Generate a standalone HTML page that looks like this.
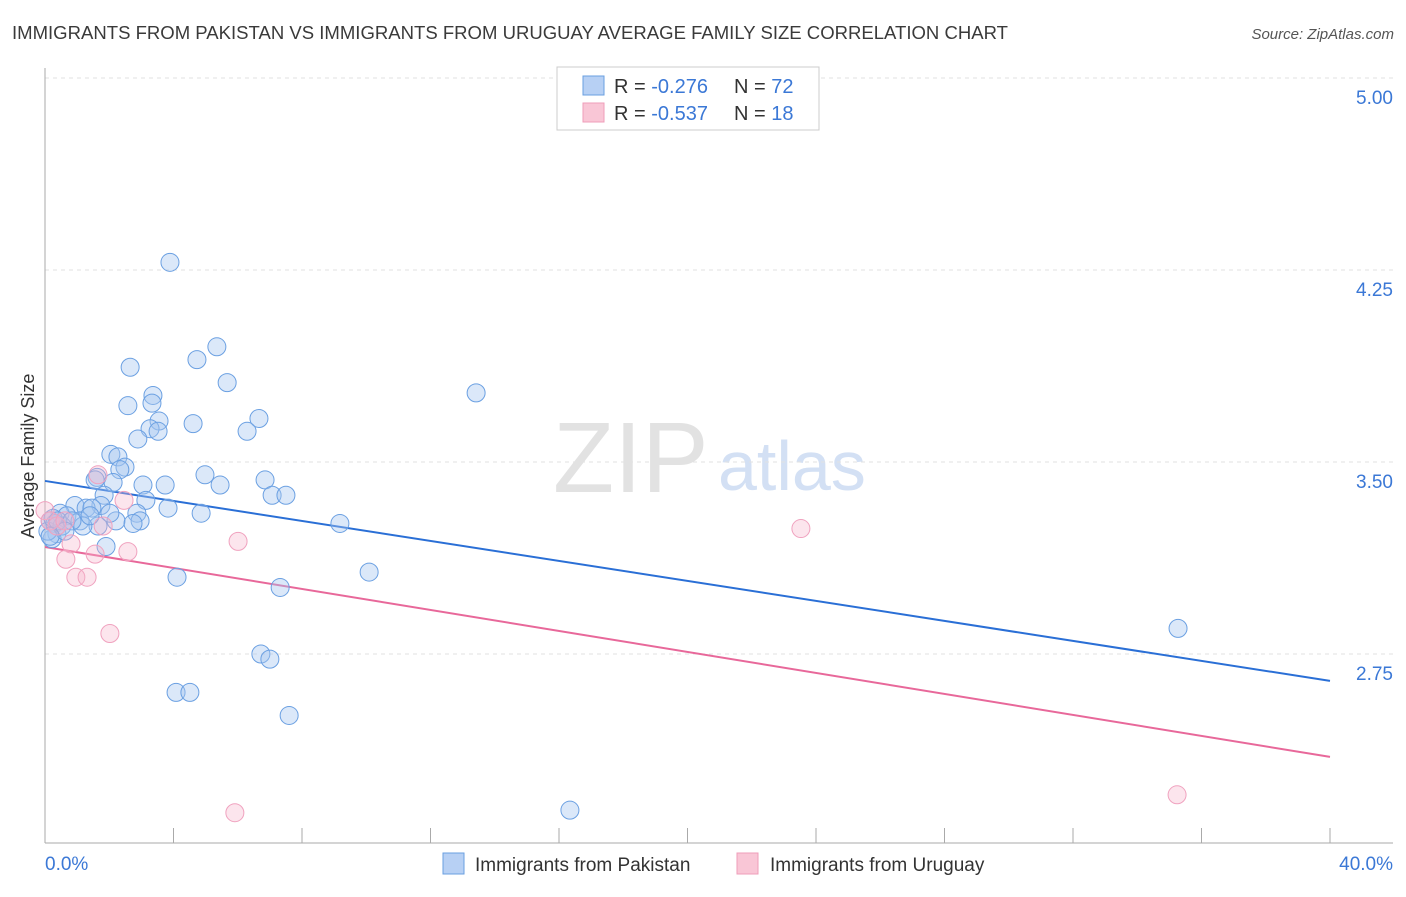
<!DOCTYPE html>
<html><head><meta charset="utf-8"><style>
body{margin:0;background:#fff;font-family:"Liberation Sans",sans-serif}
svg text{font-family:"Liberation Sans",sans-serif}
</style></head><body>
<svg id="chart" width="1406" height="892" xmlns="http://www.w3.org/2000/svg">
<text x="12" y="39" font-size="18" fill="#3a3a3a" textLength="996" lengthAdjust="spacingAndGlyphs">IMMIGRANTS FROM PAKISTAN VS IMMIGRANTS FROM URUGUAY AVERAGE FAMILY SIZE CORRELATION CHART</text>
<text x="1394" y="39" font-size="15" fill="#555" font-style="italic" text-anchor="end">Source: ZipAtlas.com</text>
<text x="553" y="492" font-size="100" font-family="Liberation Serif" fill="#e2e2e2">ZIP</text>
<text x="718" y="490" font-size="70" fill="#d3e0f4">atlas</text>
<text transform="translate(34,456) rotate(-90)" font-size="18" fill="#333" text-anchor="middle">Average Family Size</text>
<g id="grid"></g><g id="axes"></g><g id="lines"></g><g id="pts"></g>
<g>
<rect x="557" y="67" width="262" height="63" fill="#fff" stroke="#ccc"/>
<rect x="583" y="76" width="21" height="19" fill="#b7d0f4" stroke="#6a9fe0"/>
<rect x="583" y="103" width="21" height="19" fill="#f9c6d6" stroke="#ef9db9"/>
<text x="614" y="93" font-size="20" fill="#333">R = <tspan fill="#3b78d6">-0.276</tspan></text>
<text x="734" y="93" font-size="20" fill="#333">N = <tspan fill="#3b78d6">72</tspan></text>
<text x="614" y="120" font-size="20" fill="#333">R = <tspan fill="#3b78d6">-0.537</tspan></text>
<text x="734" y="120" font-size="20" fill="#333">N = <tspan fill="#3b78d6"> 18</tspan></text>
</g>
<g>
<rect x="443" y="853" width="21" height="21" fill="#b7d0f4" stroke="#6a9fe0"/>
<text x="475" y="871" font-size="19" fill="#333">Immigrants from Pakistan</text>
<rect x="737" y="853" width="21" height="21" fill="#f9c6d6" stroke="#ef9db9"/>
<text x="770" y="871" font-size="19" fill="#333">Immigrants from Uruguay</text>
</g>
</svg>
<script>
const yTicks=[5.00,4.25,3.50,2.75];
const xTickLabels=["0.0%","40.0%"];
const blueX=[3.89,5.35,4.73,2.65,5.67,3.36,2.58,3.33,13.42,3.55,4.61,6.66,3.27,3.52,6.29,2.89,2.05,2.27,2.49,2.33,4.98,6.85,1.62,1.56,2.12,3.05,3.74,5.45,1.84,3.14,7.07,7.50,0.93,1.74,1.28,1.46,3.83,4.86,0.47,0.68,2.86,1.09,2.21,2.96,2.74,1.65,0.16,0.31,0.37,0.22,9.18,1.90,10.09,4.11,7.32,35.27,6.72,7.00,4.08,4.51,7.60,16.34,0.09,0.53,1.18,0.25,0.40,0.84,0.62,0.16,1.40,2.02];
const blueY=[4.28,3.95,3.90,3.87,3.81,3.76,3.72,3.73,3.77,3.66,3.65,3.67,3.63,3.62,3.62,3.59,3.53,3.52,3.48,3.47,3.45,3.43,3.44,3.43,3.42,3.41,3.41,3.41,3.37,3.35,3.37,3.37,3.33,3.33,3.32,3.32,3.32,3.30,3.30,3.29,3.30,3.27,3.27,3.27,3.26,3.25,3.27,3.26,3.22,3.20,3.26,3.17,3.07,3.05,3.01,2.85,2.75,2.73,2.60,2.60,2.51,2.14,3.23,3.25,3.25,3.28,3.27,3.27,3.23,3.21,3.29,3.30];
const pinkX=[1.65,2.46,1.81,0.0,0.16,0.37,0.62,0.81,0.65,1.56,2.58,6.01,0.96,1.31,2.02,23.53,5.91,35.24];
const pinkY=[3.45,3.35,3.25,3.31,3.27,3.25,3.27,3.18,3.12,3.14,3.15,3.19,3.05,3.05,2.83,3.24,2.13,2.20];
const blueTrend=[3.426,2.645];
const pinkTrend=[3.168,2.348];
const xMax=40;
const NS="http://www.w3.org/2000/svg";
const X=v=>45+v/xMax*1285;
const Y=v=>78+(5-v)*256;
function mk(t,a,p){const e=document.createElementNS(NS,t);for(const k in a)e.setAttribute(k,a[k]);document.getElementById(p).appendChild(e);return e;}
yTicks.forEach(t=>{
 const g=mk('line',{x1:45,x2:1393,y1:Y(t),y2:Y(t),stroke:'#e2e2e2','stroke-dasharray':'4,4'},'grid');
 
 
 const l=mk('text',{x:1393,y:Y(t)+26,'font-size':19,fill:'#3b78d6','text-anchor':'end'},'grid');
 
 
 l.textContent=t.toFixed(2);
});
const ax=mk('line',{x1:45,x2:45,y1:68,y2:843,stroke:'#aaa'},'axes');


const bx=mk('line',{x1:45,x2:1393,y1:843,y2:843,stroke:'#aaa'},'axes');


for(let i=1;i<=10;i++){const tk=mk('line',{x1:X(i*4),x2:X(i*4),y1:828,y2:843,stroke:'#aaa'},'axes');
 
 }
[[0,'start',45],[1,'end',1393]].forEach(([i,a,x])=>{const t=mk('text',{x:x,y:870,'font-size':19,fill:'#3b78d6','text-anchor':a},'axes');
 
 
 t.textContent=xTickLabels[i];});
function pts(xs,ys,fill,stroke,name){xs.forEach((x,i)=>{const c=mk('circle',{cx:X(x),cy:Y(ys[i]),r:9,fill:fill,stroke:stroke,'stroke-width':1},'pts');
 
 });}
pts(blueX,blueY,'rgba(165,198,240,0.4)','#6ba0e2','pakistan-point');
pts(pinkX,pinkY,'rgba(246,180,203,0.35)','#f0a2bf','uruguay-point');
const bl=mk('line',{x1:X(0),y1:Y(blueTrend[0]),x2:X(xMax),y2:Y(blueTrend[1]),stroke:'#2a6fd6','stroke-width':2},'lines');


const pl=mk('line',{x1:X(0),y1:Y(pinkTrend[0]),x2:X(xMax),y2:Y(pinkTrend[1]),stroke:'#e8689a','stroke-width':2},'lines');


</script>
</body></html>
